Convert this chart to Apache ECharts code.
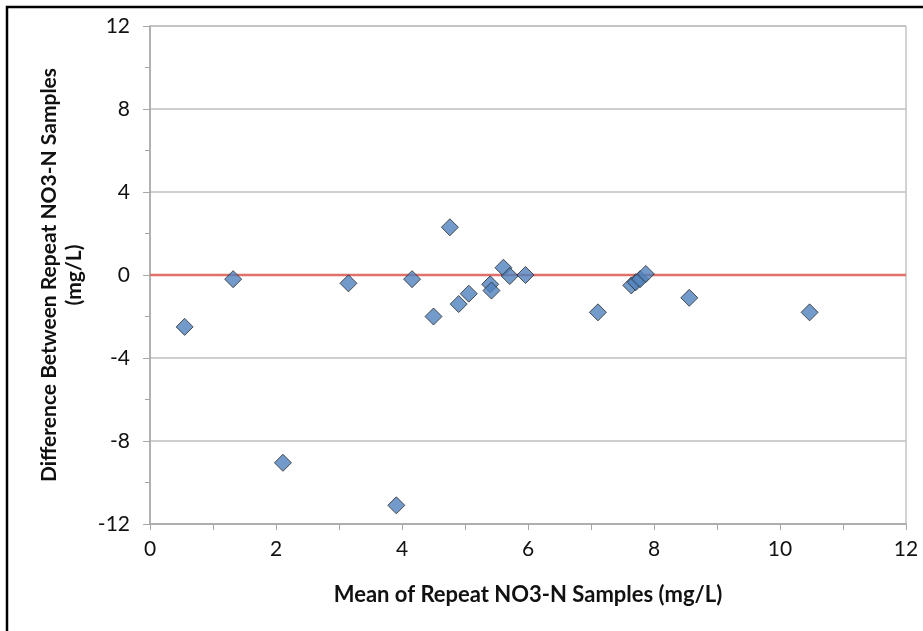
<!DOCTYPE html>
<html>
<head>
<meta charset="utf-8">
<script src="https://cdn.jsdelivr.net/npm/echarts@6/dist/echarts.min.js"></script>
<style>
  html, body { margin: 0; padding: 0; background: #fff; }
  #chart { width: 923px; height: 631px; }
</style>
</head>
<body>
<div id="chart"></div>
<script>
// Mean of each repeat pair (mg/L)
const meanX = [0.55, 1.32, 2.11, 3.15, 3.91, 4.16, 4.50, 4.76, 4.90, 5.06, 5.40, 5.42, 5.61, 5.71, 5.96, 7.11, 7.64, 7.71, 7.78, 7.87, 8.56, 10.47];
// Difference between the repeat samples (mg/L)
const diffY = [-2.5, -0.2, -9.05, -0.4, -11.1, -0.2, -2.0, 2.3, -1.4, -0.9, -0.45, -0.75, 0.35, -0.05, 0.0, -1.8, -0.5, -0.35, -0.2, 0.05, -1.1, -1.8];
// Zero-difference reference line
const refX = [0, 12];
const refY = [0, 0];
// Axis ranges and tick steps
const xRange = [0, 12], xStep = 2;
const yRange = [-12, 12], yStep = 4;

const xTitle = 'Mean of Repeat NO3-N Samples (mg/L)';
const yTitle = 'Difference Between Repeat NO3-N Samples\n(mg/L)';

const FONT = 'Lato';
const axisGray = '#a6a6a6';

const chart = echarts.init(document.getElementById('chart'), null, { renderer: 'canvas' });
chart.setOption({
  animation: false,
  backgroundColor: '#ffffff',
  textStyle: { fontFamily: FONT },
  graphic: [{
    type: 'rect',
    shape: { x: 7, y: 7, width: 940, height: 650 },
    style: { fill: 'none', stroke: '#000', lineWidth: 2.5 },
    silent: true
  }],
  grid: {
    left: 150, right: 17, top: 26, bottom: 107,
    show: true, borderColor: axisGray, borderWidth: 1, backgroundColor: 'transparent'
  },
  xAxis: {
    type: 'value',
    min: xRange[0], max: xRange[1], interval: xStep,
    name: xTitle,
    nameLocation: 'middle',
    nameGap: 60,
    nameTextStyle: { fontFamily: FONT, fontWeight: 'bold', fontSize: 22, color: '#111' },
    axisLine: { show: true, onZero: false, lineStyle: { color: axisGray, width: 1.5 } },
    axisTick: { show: true, inside: false, length: 6, lineStyle: { color: axisGray } },
    minorTick: { show: true, splitNumber: 2, length: 6, lineStyle: { color: axisGray } },
    axisLabel: { fontFamily: FONT, fontSize: 21, color: '#111', margin: 15 },
    splitLine: { show: false }
  },
  yAxis: {
    type: 'value',
    min: yRange[0], max: yRange[1], interval: yStep,
    name: yTitle,
    nameLocation: 'middle',
    nameGap: 62,
    nameRotate: 90,
    nameTextStyle: { fontFamily: FONT, fontWeight: 'bold', fontSize: 21, color: '#111', lineHeight: 25, align: 'center' },
    axisLine: { show: true, onZero: false, lineStyle: { color: axisGray, width: 1.5 } },
    axisTick: { show: true, inside: false, length: 7, lineStyle: { color: axisGray } },
    minorTick: { show: true, splitNumber: 2, length: 5, lineStyle: { color: axisGray } },
    axisLabel: { fontFamily: FONT, fontSize: 21, color: '#111', margin: 20 },
    splitLine: { show: true, lineStyle: { color: '#bfbfbf', width: 1.5 } }
  },
  series: [
    {
      type: 'line',
      data: refX.map((x, i) => [x, refY[i]]),
      symbol: 'none',
      lineStyle: { color: '#e0706c', width: 2.5 },
      z: 1,
      silent: true
    },
    {
      type: 'scatter',
      data: meanX.map((x, i) => [x, diffY[i]]),
      symbol: 'diamond',
      symbolSize: 17,
      itemStyle: { color: '#4f81bd', borderColor: '#2b2b2b', borderWidth: 1 },
      z: 3
    }
  ]
});
</script>
</body>
</html>
